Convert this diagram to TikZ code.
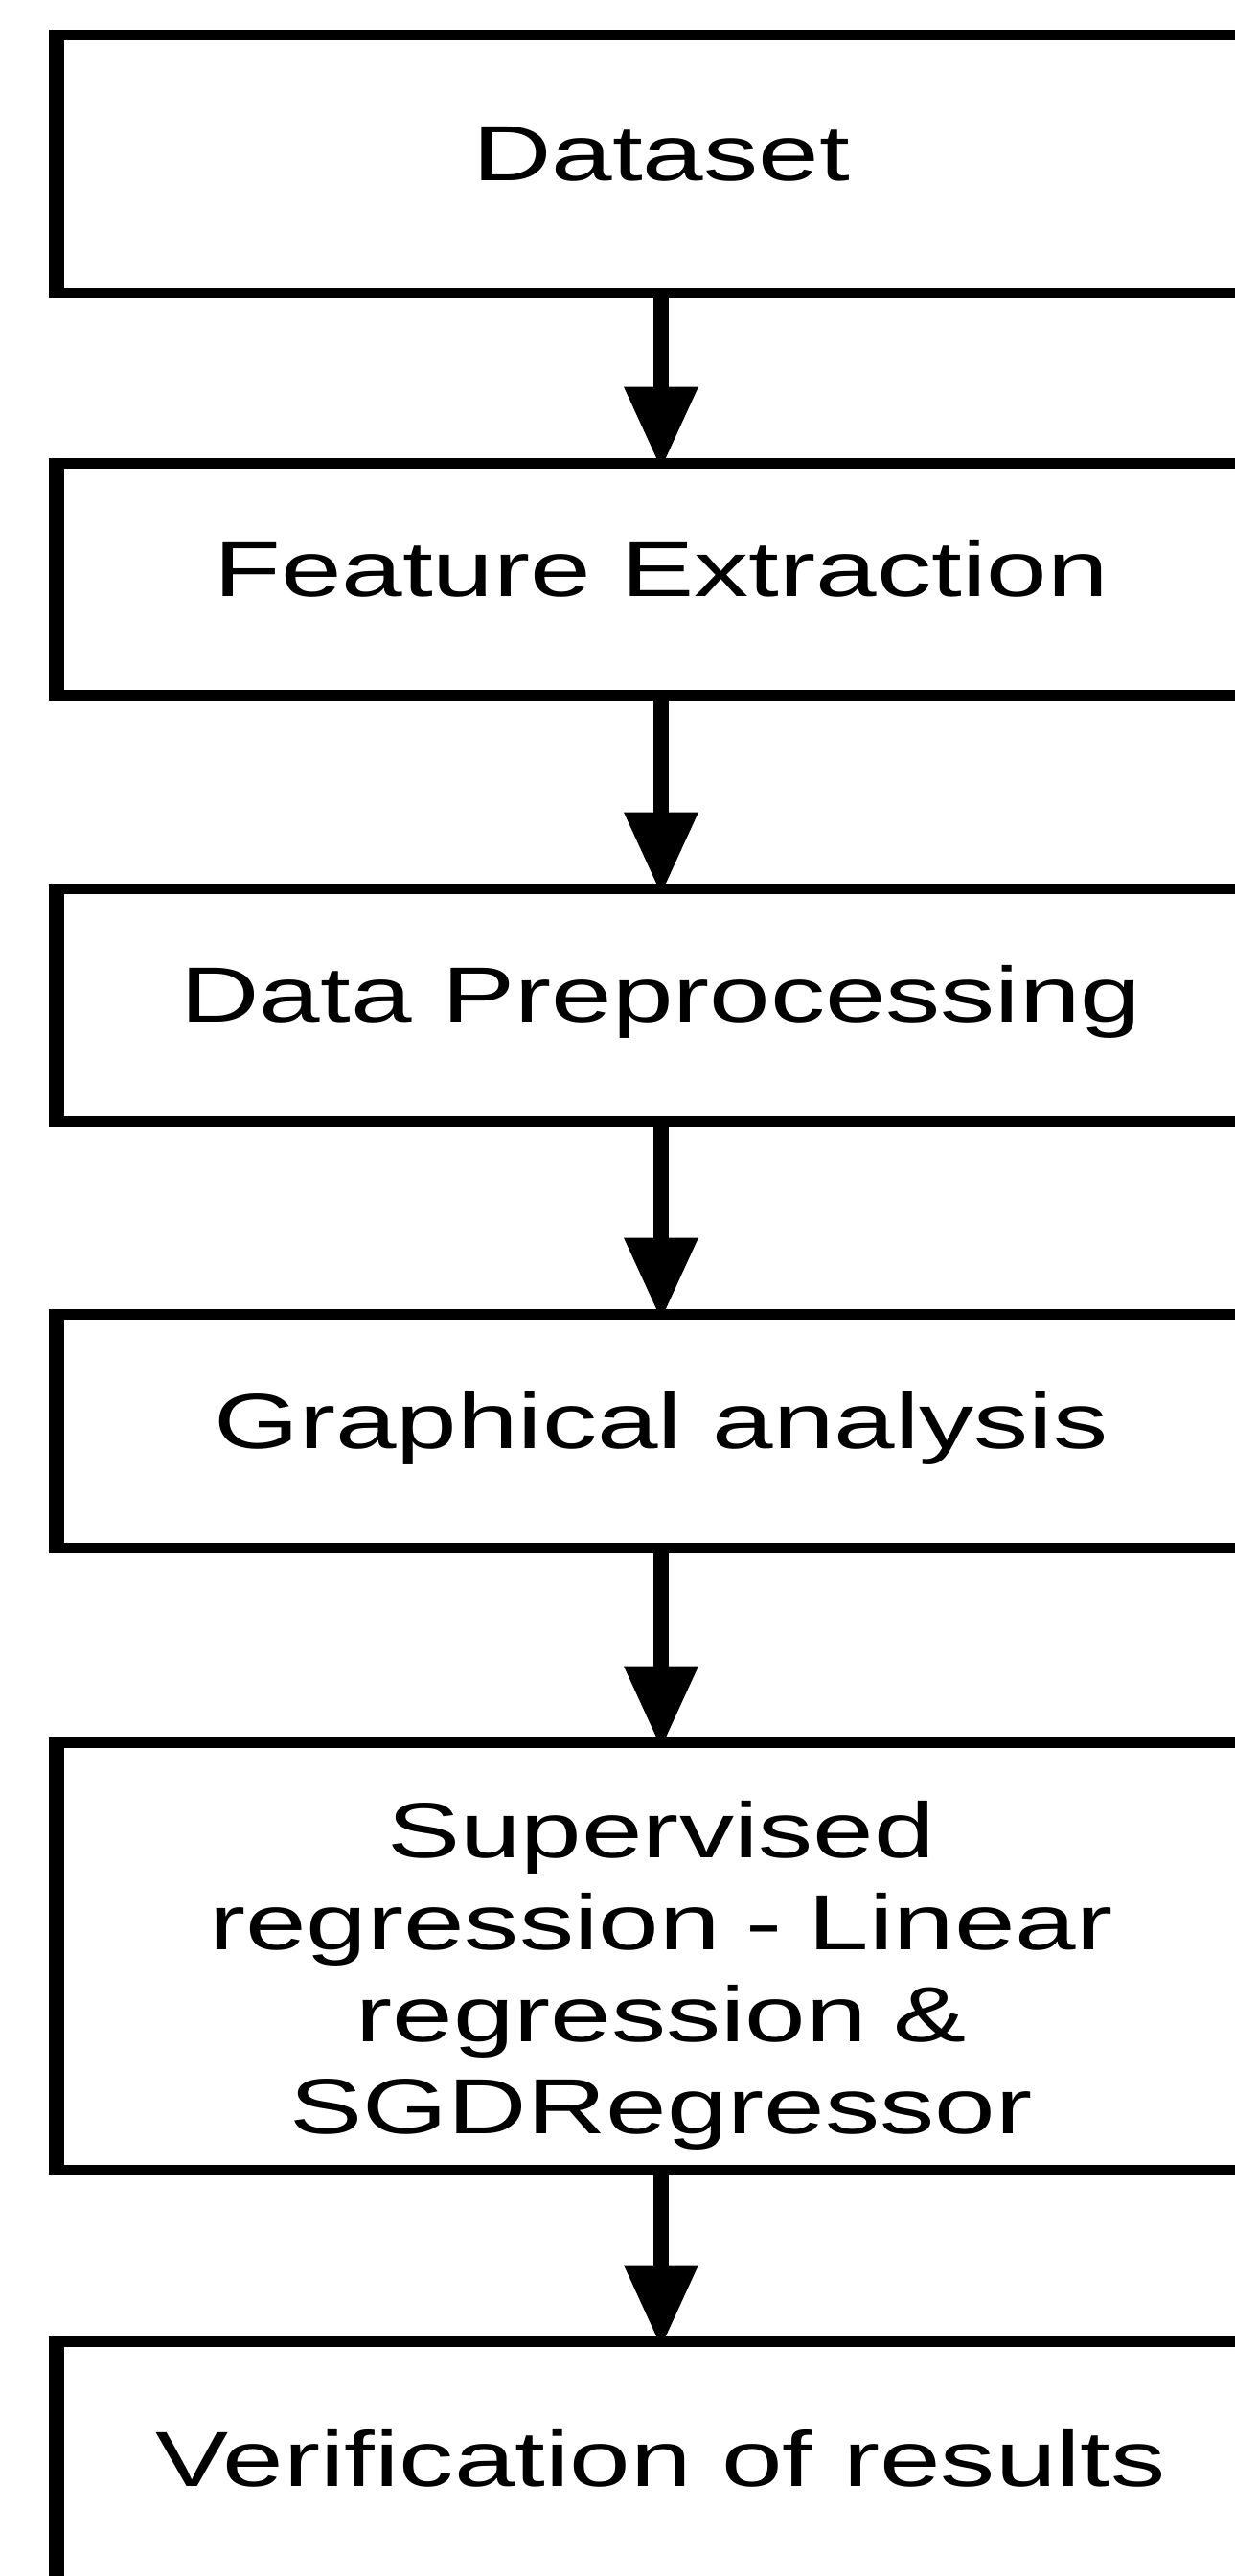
\documentclass[tikz,border=0pt]{standalone}
\usepackage{fontspec}
\setmainfont{Liberation Sans}[FakeStretch=1.40]
\usetikzlibrary{positioning, arrows.meta}
\newcommand{\BoxWidth}{631.5pt}
\newcommand{\BoxLine}{5.5pt}
\newcommand{\SideLine}{8pt}
\tikzset{StepBox/.style={
    draw=black,
    line width=\BoxLine,
    minimum width=\BoxWidth,
    inner sep=0pt,
    outer sep=0pt,
    align=center,
    text height=30.6pt,
    text depth=12.4pt,
    font=\fontsize{40.8pt}{48pt}\selectfont
    }
}
\tikzset{FlowArrow/.style={
    draw=black,
    line width=\SideLine,
    -{Triangle[length=42.5pt,width=39pt,line width=0pt]},
    shorten >=-2.75pt
    }
}
\begin{document}
\begin{tikzpicture}[draw=black]
    \useasboundingbox (0,0) rectangle (644.5pt,-1344pt);

    \node (Data) [StepBox, minimum height=134.5pt] at (345pt,-85.25pt) {Dataset};

    \node (Features) [StepBox, minimum height=121pt, below=89pt of Data] {Feature Extraction};

    \node (Prep) [StepBox, minimum height=121.5pt, below=101pt of Features] {Data Preprocessing};

    \node (Graph) [StepBox, minimum height=122pt, below=100.5pt of Prep] {Graphical analysis};

    \node (Regr) [StepBox, minimum height=223pt, below=101.5pt of Graph, text width=600pt, text height=0pt, text depth=102.6pt]
    {Supervised\\ regression - Linear\\ regression \&\\ SGDRegressor};

    \node (Verif) [StepBox, minimum height=133pt, below=89.5pt of Regr] {Verification of results};

    % side edges are drawn heavier than top and bottom
    \foreach \n in {Data, Features, Prep, Graph, Regr, Verif}
        \draw[line width=\SideLine, shorten <=-2.75pt, shorten >=-2.75pt] (\n.north west) -- (\n.south west);

    \draw[FlowArrow] (Data.south) -- (Features.north);
    \draw[FlowArrow] (Features.south) -- (Prep.north);
    \draw[FlowArrow] (Prep.south) -- (Graph.north);
    \draw[FlowArrow] (Graph.south) -- (Regr.north);
    \draw[FlowArrow] (Regr.south) -- (Verif.north);

\end{tikzpicture}
\end{document}
